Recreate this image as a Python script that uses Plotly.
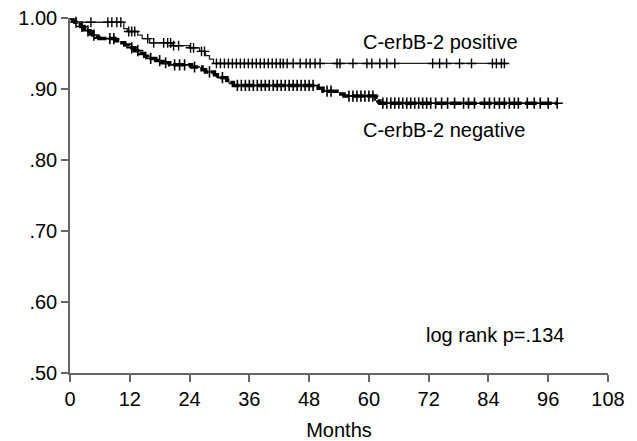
import numpy as np
import plotly.graph_objects as go

# Kaplan-Meier step data (months, survival)
pos_times = [0, 0.6, 1.3, 10.8, 11.5, 13.6, 14.5, 16.0, 20.5, 24.0, 26.0, 27.2, 28.0, 28.8, 87.2]
pos_surv = [1.0, 0.997, 0.994, 0.985, 0.981, 0.976, 0.971, 0.965, 0.961, 0.958, 0.953, 0.947, 0.942, 0.936, 0.936]

neg_times = [0, 0.5, 1.0, 1.6, 2.2, 2.8, 3.4, 4.0, 4.6, 5.2, 5.8, 9.0, 10.0, 11.0, 12.0, 13.0, 14.0,
             15.0, 15.6, 17.2, 18.5, 20.0, 24.4, 26.5, 27.2, 29.0, 29.6, 31.5, 32.2, 32.8, 49.8,
             50.8, 53.6, 55.0, 61.4, 61.8, 62.2, 97.8]
neg_surv = [1.0, 0.997, 0.994, 0.991, 0.988, 0.985, 0.982, 0.979, 0.976, 0.973, 0.971, 0.968, 0.965,
            0.962, 0.958, 0.954, 0.950, 0.946, 0.943, 0.940, 0.937, 0.934, 0.931, 0.927, 0.924,
            0.920, 0.916, 0.912, 0.909, 0.905, 0.901, 0.897, 0.893, 0.890, 0.886, 0.883, 0.880, 0.880]

# censored observation times (months)
pos_censor = [4.2, 7.6, 8.4, 9.4, 10.2, 11.8, 12.4, 13.0, 15.6, 16.8, 18.8, 19.6, 20.2, 20.8, 21.8,
              24.2, 24.8, 26.4, 27.0, 29.4, 30.2, 31.0, 31.8, 32.6, 33.4, 34.2, 35.0, 35.8, 36.6,
              37.4, 38.2, 39.0, 39.8, 40.6, 41.4, 42.2, 42.8, 43.6, 44.8, 46.2, 47.4, 48.2, 49.2,
              50.2, 53.6, 54.2, 56.8, 59.6, 60.6, 62.2, 63.6, 65.2, 72.8, 74.2, 75.6, 78.2, 80.6,
              84.8, 85.6, 86.6, 87.2]
neg_censor = [1.2, 2.4, 3.6, 4.8, 8.0, 8.8, 12.4, 13.6, 16.2, 18.0, 19.2, 21.0, 22.0, 23.0, 25.0,
              28.0, 30.6, 33.6, 34.4, 35.2, 36.0, 36.8, 37.6, 38.4, 39.2, 40.0, 40.8, 41.6, 42.4,
              43.2, 44.0, 44.8, 45.6, 46.4, 47.2, 48.0, 48.8, 51.6, 52.4, 56.0, 56.8, 57.6, 58.4,
              59.2, 60.0, 60.8, 62.8, 63.6, 64.4, 65.2, 66.0, 66.8, 67.6, 68.4, 69.2, 70.0, 70.8,
              71.6, 72.4, 73.4, 74.6, 75.8, 77.2, 79.0, 80.0, 81.2, 83.2, 84.2, 85.2, 86.2, 87.2,
              88.2, 89.2, 90.0, 91.8, 93.2, 94.4, 96.0, 97.8]

x_ticks = [0, 12, 24, 36, 48, 60, 72, 84, 96, 108]
y_ticks = [0.5, 0.6, 0.7, 0.8, 0.9, 1.0]
y_labels = [".50", ".60", ".70", ".80", ".90", "1.00"]


def step_value(times, surv, t):
    idx = np.searchsorted(np.array(times), t, side="right") - 1
    return [surv[i] for i in idx]


FONT = "Liberation Sans, Arial, sans-serif"
fig = go.Figure()

fig.add_trace(go.Scatter(x=neg_times, y=neg_surv, mode="lines", line_shape="hv",
                         line=dict(color="black", width=3.5, dash="12px,3px"),
                         cliponaxis=False, showlegend=False, hoverinfo="skip"))
fig.add_trace(go.Scatter(x=neg_censor, y=step_value(neg_times, neg_surv, neg_censor), mode="markers",
                         marker=dict(symbol="cross-thin", size=8, line=dict(color="black", width=1.6)),
                         cliponaxis=False, showlegend=False))
fig.add_trace(go.Scatter(x=pos_times, y=pos_surv, mode="lines", line_shape="hv",
                         line=dict(color="#222222", width=1.3),
                         cliponaxis=False, showlegend=False, hoverinfo="skip"))
fig.add_trace(go.Scatter(x=pos_censor, y=step_value(pos_times, pos_surv, pos_censor), mode="markers",
                         marker=dict(symbol="cross-thin", size=7, line=dict(color="black", width=1.4)),
                         cliponaxis=False, showlegend=False))

axis_common = dict(showline=True, linecolor="#666666", linewidth=1.5, ticks="outside", ticklen=7,
                   tickwidth=1.5, tickcolor="#666666", showgrid=False, zeroline=False,
                   automargin=False, tickfont=dict(family=FONT, size=20, color="black"))

fig.update_xaxes(range=[0, 108], tickvals=x_ticks, ticktext=[str(v) for v in x_ticks],
                 title=dict(text="Months", font=dict(family=FONT, size=20, color="black"), standoff=16),
                 **axis_common)
fig.update_yaxes(range=[0.5, 1.0], tickvals=y_ticks, ticktext=y_labels, **axis_common)

fig.add_annotation(x=58.4, y=0.966, xref="x", yref="y", text="C-erbB-2 positive", showarrow=False,
                   xanchor="left", yanchor="middle", font=dict(family=FONT, size=20, color="black"))
fig.add_annotation(x=58.4, y=0.842, xref="x", yref="y", text="C-erbB-2 negative", showarrow=False,
                   xanchor="left", yanchor="middle", font=dict(family=FONT, size=20, color="black"))
fig.add_annotation(x=71.0, y=0.554, xref="x", yref="y", text="log rank p=.134", showarrow=False,
                   xanchor="left", yanchor="middle", font=dict(family=FONT, size=20, color="black"))

fig.update_layout(width=637, height=441, margin=dict(l=70, r=29, t=18, b=68),
                  plot_bgcolor="white", paper_bgcolor="white")

fig.write_html("out.html")
